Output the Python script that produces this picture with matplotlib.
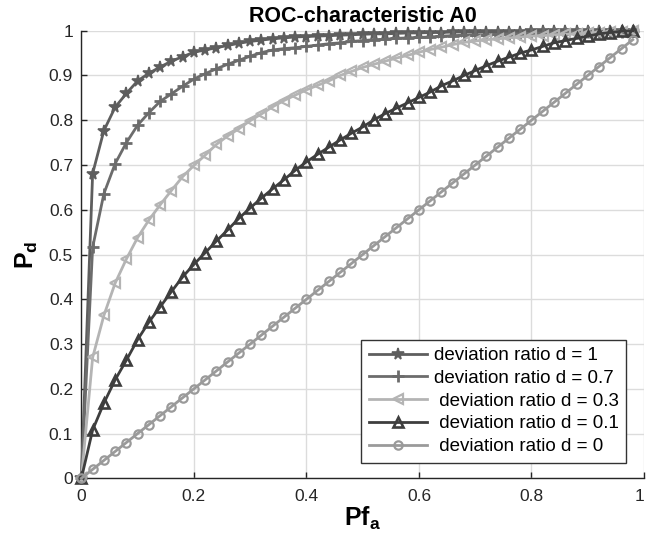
import matplotlib
matplotlib.use("Agg")
import matplotlib.pyplot as plt

plt.rcParams['font.family'] = ['Liberation Sans', 'DejaVu Sans']
plt.rcParams['mathtext.fontset'] = 'custom'
plt.rcParams['mathtext.rm'] = 'Liberation Sans'
plt.rcParams['mathtext.bf'] = 'Liberation Sans:bold'

# ---- data ----
pfa = [0.00, 0.02, 0.04, 0.06, 0.08, 0.10, 0.12, 0.14, 0.16, 0.18,
       0.20, 0.22, 0.24, 0.26, 0.28, 0.30, 0.32, 0.34, 0.36, 0.38,
       0.40, 0.42, 0.44, 0.46, 0.48, 0.50, 0.52, 0.54, 0.56, 0.58,
       0.60, 0.62, 0.64, 0.66, 0.68, 0.70, 0.72, 0.74, 0.76, 0.78,
       0.80, 0.82, 0.84, 0.86, 0.88, 0.90, 0.92, 0.94, 0.96, 0.98]

pd_d1 = [0.000, 0.681, 0.777, 0.829, 0.860, 0.888, 0.905, 0.919, 0.932, 0.942,
         0.952, 0.957, 0.962, 0.967, 0.972, 0.976, 0.979, 0.982, 0.984, 0.986,
         0.987, 0.988, 0.989, 0.990, 0.991, 0.992, 0.993, 0.993, 0.994, 0.995,
         0.995, 0.996, 0.996, 0.997, 0.997, 0.997, 0.998, 0.998, 0.998, 0.998,
         0.999, 0.999, 0.999, 0.999, 0.999, 1.000, 1.000, 1.000, 1.000, 1.000]

pd_d07 = [0.000, 0.516, 0.636, 0.703, 0.750, 0.789, 0.817, 0.842, 0.859, 0.876,
          0.892, 0.904, 0.915, 0.925, 0.934, 0.943, 0.951, 0.957, 0.960, 0.962,
          0.965, 0.968, 0.971, 0.973, 0.976, 0.978, 0.980, 0.981, 0.983, 0.984,
          0.985, 0.986, 0.988, 0.989, 0.990, 0.991, 0.991, 0.992, 0.993, 0.993,
          0.994, 0.995, 0.995, 0.996, 0.996, 0.997, 0.997, 0.998, 0.998, 0.999]

pd_d03 = [0.000, 0.270, 0.364, 0.436, 0.490, 0.538, 0.577, 0.611, 0.643, 0.674,
          0.699, 0.722, 0.746, 0.765, 0.781, 0.799, 0.814, 0.830, 0.844, 0.856,
          0.868, 0.878, 0.888, 0.900, 0.909, 0.918, 0.925, 0.932, 0.939, 0.945,
          0.952, 0.958, 0.963, 0.969, 0.974, 0.977, 0.980, 0.982, 0.984, 0.986,
          0.988, 0.989, 0.991, 0.992, 0.993, 0.995, 0.996, 0.997, 0.998, 0.999]

pd_d01 = [0.000, 0.108, 0.168, 0.220, 0.264, 0.310, 0.349, 0.383, 0.417, 0.450,
          0.478, 0.504, 0.530, 0.555, 0.581, 0.604, 0.626, 0.647, 0.667, 0.688,
          0.707, 0.724, 0.740, 0.756, 0.771, 0.785, 0.801, 0.815, 0.827, 0.839,
          0.851, 0.863, 0.877, 0.888, 0.900, 0.911, 0.922, 0.932, 0.941, 0.950,
          0.957, 0.965, 0.973, 0.978, 0.983, 0.988, 0.993, 0.996, 0.999, 1.000]

pd_d0 = [0.00, 0.02, 0.04, 0.06, 0.08, 0.10, 0.12, 0.14, 0.16, 0.18,
         0.20, 0.22, 0.24, 0.26, 0.28, 0.30, 0.32, 0.34, 0.36, 0.38,
         0.40, 0.42, 0.44, 0.46, 0.48, 0.50, 0.52, 0.54, 0.56, 0.58,
         0.60, 0.62, 0.64, 0.66, 0.68, 0.70, 0.72, 0.74, 0.76, 0.78,
         0.80, 0.82, 0.84, 0.86, 0.88, 0.90, 0.92, 0.94, 0.96, 0.98]

labels = ["deviation ratio d = 1", "deviation ratio d = 0.7",
          " deviation ratio d = 0.3", " deviation ratio d = 0.1",
          " deviation ratio d = 0"]

xticks = [0, 0.2, 0.4, 0.6, 0.8, 1]
xticklabels = ["0", "0.2", "0.4", "0.6", "0.8", "1"]
yticks = [0, 0.1, 0.2, 0.3, 0.4, 0.5, 0.6, 0.7, 0.8, 0.9, 1]
yticklabels = ["0", "0.1", "0.2", "0.3", "0.4", "0.5", "0.6", "0.7", "0.8", "0.9", "1"]

title = "ROC-characteristic A0"

# ---- figure ----
fig = plt.figure(figsize=(6.47, 5.39), dpi=100)
ax = fig.add_axes([0.1258, 0.1126, 0.8696, 0.8304])

styles = [
    dict(color='#5e5e5e', marker='*', ms=8.5, mew=1.2, mfc='#5e5e5e'),
    dict(color='#6c6c6c', marker='+', ms=9, mew=2.0),
    dict(color='#b4b4b4', marker='<', ms=7.5, mew=1.6, mfc='none'),
    dict(color='#3e3e3e', marker='^', ms=7.5, mew=1.9, mfc='none'),
    dict(color='#9a9a9a', marker='o', ms=6, mew=1.6, mfc='none'),
]
series = [pd_d1, pd_d07, pd_d03, pd_d01, pd_d0]

for yv, st, lab in zip(series, styles, labels):
    ax.plot(pfa, yv, lw=2.0, label=lab, clip_on=False, zorder=3, **st)

ax.set_xlim(0, 1)
ax.set_ylim(0, 1)
ax.set_xticks(xticks)
ax.set_xticklabels(xticklabels)
ax.set_yticks(yticks)
ax.set_yticklabels(yticklabels)
ax.tick_params(direction='in', length=4, width=1, colors='#262626',
               labelsize=12.5, labelcolor='#262626')
ax.tick_params(axis='x', pad=8)
ax.tick_params(axis='y', pad=6)
ax.get_xticklabels()[-1].set_horizontalalignment('right')
ax.grid(True, color='#dcdcdc', lw=1)
ax.set_axisbelow(True)
for s in ['top', 'right']:
    ax.spines[s].set_visible(False)
for s in ['left', 'bottom']:
    ax.spines[s].set_color('#262626')
    ax.spines[s].set_linewidth(1.0)

ax.set_title(title, fontsize=15.5, fontweight='bold', pad=6)
ax.set_xlabel(r'$\mathbf{Pf_a}$', fontsize=18, labelpad=0)
ax.set_ylabel(r'$\mathbf{P_d}$', fontsize=18, labelpad=6)

leg = ax.legend(loc='lower right', bbox_to_anchor=(0.968, 0.035),
                borderaxespad=0, fontsize=13.5, frameon=True, fancybox=False,
                framealpha=1, edgecolor='#333333', handlelength=3.1,
                handletextpad=0.35, labelspacing=0.3, borderpad=0.4)
leg.get_frame().set_linewidth(1.0)

fig.savefig("out.png", dpi=100)
